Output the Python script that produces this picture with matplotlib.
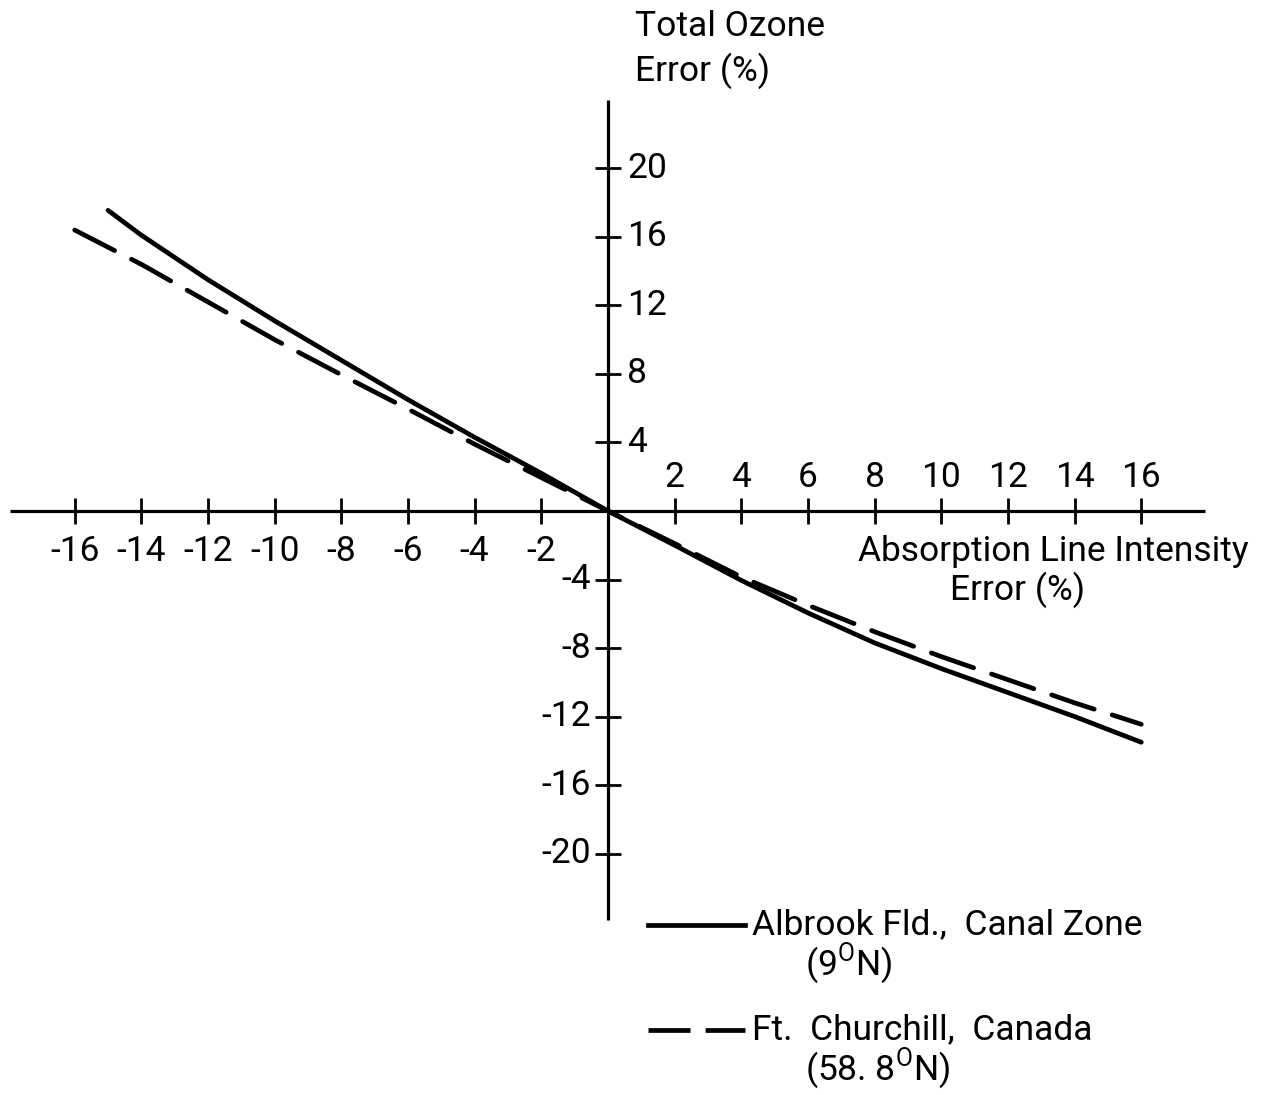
import matplotlib
matplotlib.use("Agg")
import matplotlib.pyplot as plt
from matplotlib.lines import Line2D

plt.rcParams['font.family'] = ['Roboto', 'DejaVu Sans']
plt.rcParams['mathtext.fontset'] = 'custom'
plt.rcParams['mathtext.rm'] = 'Roboto'

# values
x_albrook = [-15, -14, -12, -10, -8, -6, -4, -2, 0, 2, 4, 6, 8, 10, 12, 14, 16]
y_albrook = [17.55, 16.1, 13.5, 11.1, 8.8, 6.5, 4.3, 2.2, 0.0,
             -2.0, -4.05, -5.95, -7.7, -9.2, -10.6, -12.0, -13.5]

x_churchill = [-16, -14, -12, -10, -8, -6, -4, -2, 0, 2, 4, 6, 8, 10, 12, 14, 16]
y_churchill = [16.4, 14.4, 12.2, 10.0, 7.95, 5.95, 3.9, 1.95, 0.0,
               -1.9, -3.85, -5.5, -7.05, -8.5, -9.85, -11.2, -12.45]

x_ticks = [-16, -14, -12, -10, -8, -6, -4, -2, 2, 4, 6, 8, 10, 12, 14, 16]
y_ticks = [-20, -16, -12, -8, -4, 4, 8, 12, 16, 20]

labels = ['Albrook Fld.,  Canal Zone', 'Ft.  Churchill,  Canada']
sublabels = [r'(9$^{\mathrm{O}}$N)', r'(58. 8$^{\mathrm{O}}$N)']

FS = 25.5
W, H = 1263, 1095

fig = plt.figure(figsize=(W / 100, H / 100), dpi=100)
ax = fig.add_axes([0, 0, 1, 1])

# pixel layout of the original: origin at (608, 511)
px_per_x = 33.33
px_per_y = 17.13
ax.set_xlim(-608 / px_per_x, (W - 608) / px_per_x)
ax.set_ylim(-(H - 511) / px_per_y, 511 / px_per_y)

for side in ['top', 'right']:
    ax.spines[side].set_visible(False)
ax.spines['left'].set_position(('data', 0))
ax.spines['bottom'].set_position(('data', 0))
ax.spines['bottom'].set_bounds(-17.95, 17.9)
ax.spines['left'].set_bounds(-23.9, 24.0)
for side in ['left', 'bottom']:
    ax.spines[side].set_linewidth(2.3)
    ax.spines[side].set_capstyle('butt')

ax.set_xticks(x_ticks)
ax.set_yticks(y_ticks)
ax.tick_params(direction='inout', length=19, width=2.0, labelbottom=False,
               labelleft=False, color='black')
ax.set_facecolor('white')

# tick labels: negatives on one side, positives on the other
for v in x_ticks:
    if v < 0:
        ax.annotate(f'-{abs(v)}', (v, 0), xytext=(0, -29.5), textcoords='offset points',
                    ha='center', va='center', fontsize=FS)
    else:
        ax.annotate(f'{v}', (v, 0), xytext=(0, 24), textcoords='offset points',
                    ha='center', va='center', fontsize=FS)
for v in y_ticks:
    if v < 0:
        ax.annotate(f'-{abs(v)}', (0, v), xytext=(-12, 0), textcoords='offset points',
                    ha='right', va='center', fontsize=FS)
    else:
        ax.annotate(f'{v}', (0, v), xytext=(14, 0), textcoords='offset points',
                    ha='left', va='center', fontsize=FS)

ax.plot(x_albrook, y_albrook, color='black', lw=3.4,
        solid_capstyle='round', solid_joinstyle='round')
ax.plot(x_churchill, y_churchill, color='black', lw=3.4,
        linestyle=(0, (9.5, 4.0)), dash_capstyle='round', dash_joinstyle='round')

# axis titles
fig.text(635 / W, 1 - 26 / H, 'Total Ozone', fontsize=FS, ha='left', va='center')
fig.text(635 / W, 1 - 71 / H, 'Error (%)', fontsize=FS, ha='left', va='center')
fig.text(858 / W, 1 - 552 / H, 'Absorption Line Intensity', fontsize=FS,
         ha='left', va='center')
fig.text(950 / W, 1 - 590 / H, 'Error (%)', fontsize=FS, ha='left', va='center')

# key
key_y = [925, 1030]
styles = ['-', (0, (8.9, 3.2))]
for ky, st, lab, sub in zip(key_y, styles, labels, sublabels):
    fig.add_artist(Line2D([648 / W, 745 / W], [1 - ky / H, 1 - ky / H],
                          color='black', lw=3.4, linestyle=st))
    fig.text(752 / W, 1 - ky / H, lab, fontsize=FS, ha='left', va='center')
    fig.text(805 / W, 1 - (ky + 38) / H, sub, fontsize=FS, ha='left', va='center')

fig.savefig('out.png', dpi=100, facecolor='white')
